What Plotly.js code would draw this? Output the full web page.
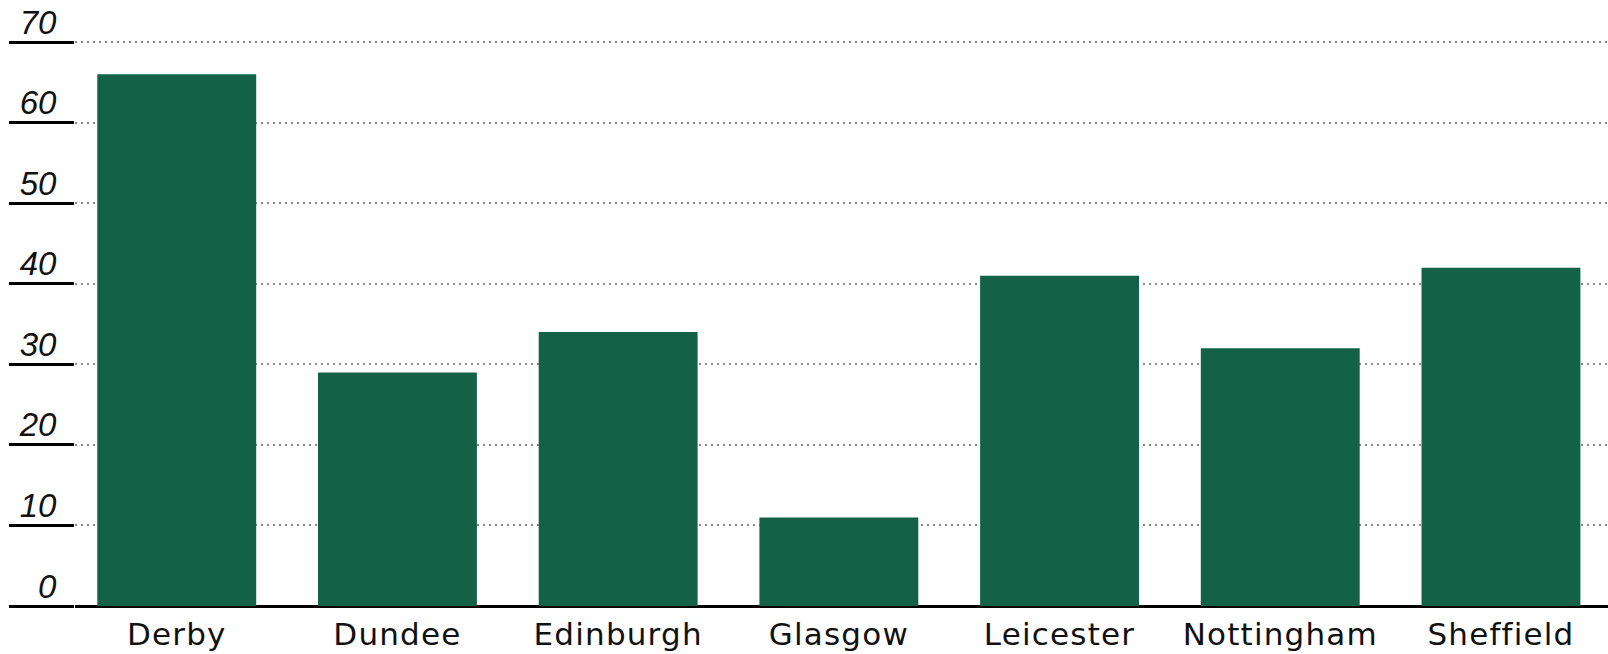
<!DOCTYPE html>
<html>
<head>
<meta charset="utf-8">
<script src="https://cdn.plot.ly/plotly-3.0.1.min.js"></script>
<style>
html,body{margin:0;padding:0;background:#fff;}
#chart{width:1608px;height:654px;}
.xtick text{letter-spacing:1.2px;}
</style>
</head>
<body>
<div id="chart"></div>
<script>
const cities = ["Derby","Dundee","Edinburgh","Glasgow","Leicester","Nottingham","Sheffield"];
const values = [66, 29, 34, 11, 41, 32, 42];
const yTicks = [0,10,20,30,40,50,60,70];

const trace = {
  type: "bar",
  x: cities,
  y: values,
  marker: {color: "#136248", line: {width: 0}},
  hoverinfo: "x+y"
};

const layout = {
  width: 1608,
  height: 654,
  margin: {l: 75, r: 0, t: 26, b: 48},
  paper_bgcolor: "#fff",
  plot_bgcolor: "#fff",
  bargap: 0.28,
  showlegend: false,
  xaxis: {
    type: "category",
    range: [-0.461, 6.485],
    showgrid: false,
    showline: false,
    ticks: "",
    ticklabelstandoff: 7,
    tickfont: {family: "DejaVu Sans", size: 31, color: "#111"}
  },
  yaxis: {
    range: [0, 72],
    tickvals: yTicks,
    ticktext: yTicks.map(String),
    showline: false,
    showgrid: true,
    gridcolor: "#8a8a8a",
    gridwidth: 2,
    griddash: "2px,4px",
    zeroline: true,
    zerolinecolor: "#000",
    zerolinewidth: 3,
    ticks: "outside",
    ticklen: 65,
    tickwidth: 3,
    tickcolor: "#000",
    ticklabelstandoff: -54,
    ticklabelshift: -20,
    tickfont: {family: "Liberation Sans", size: 33, style: "italic", color: "#111"}
  }
};

Plotly.newPlot("chart", [trace], layout, {displayModeBar: false, staticPlot: true});
</script>
</body>
</html>
